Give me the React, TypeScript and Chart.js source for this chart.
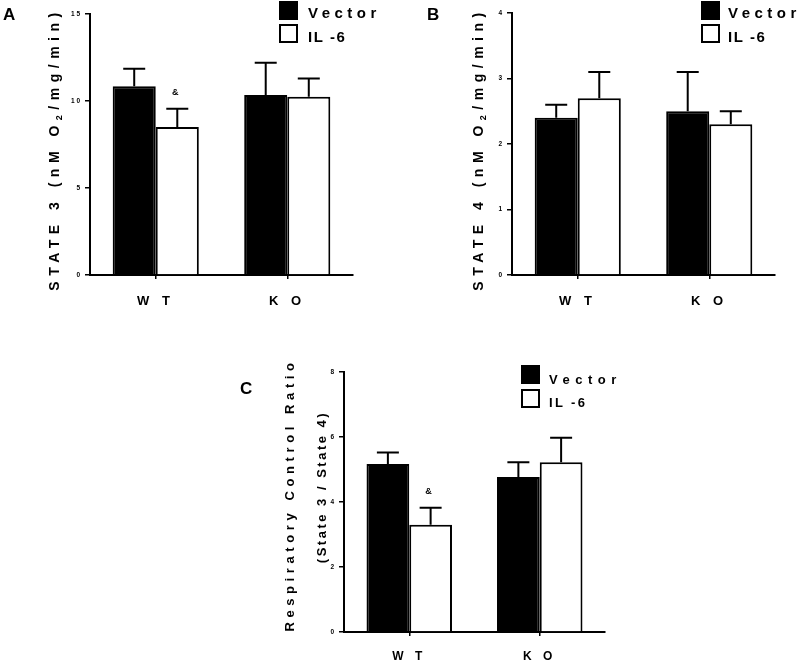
import React, { useEffect, useRef } from "react";
import { Chart, registerables } from "chart.js";

Chart.register(...registerables);

// ---------------- data ----------------
const categories = ["W T", "K O"];
const seriesNames = ["Vector", "IL -6"];

// Panel A: State 3
const state3Vector = [10.85, 10.35];
const state3VectorSem = [1.0, 1.85];
const state3Il6 = [8.5, 10.25];
const state3Il6Sem = [1.05, 1.05];
const state3Il6Marks = ["&", ""];
const state3TickLabels = ["0", "5", "1 0", "1 5"];

// Panel B: State 4
const state4Vector = [2.4, 2.5];
const state4VectorSem = [0.2, 0.6];
const state4Il6 = [2.7, 2.3];
const state4Il6Sem = [0.4, 0.2];
const state4Il6Marks = ["", ""];
const state4TickLabels = ["0", "1", "2", "3", "4"];

// Panel C: Respiratory control ratio
const rcrVector = [5.17, 4.77];
const rcrVectorSem = [0.35, 0.45];
const rcrIl6 = [3.3, 5.22];
const rcrIl6Sem = [0.52, 0.76];
const rcrIl6Marks = ["&", ""];
const rcrTickLabels = ["0", "2", "4", "6", "8"];

const FONT = "'Liberation Sans', Arial, Helvetica, sans-serif";

type Seg = { text: string; size: number; dy?: number };
type TitleLine = { x: number; y: number; spacing: number; segs: Seg[] };

type Panel = {
  key: string;
  left: number;
  top: number;
  width: number;
  height: number;
  padTop: number;
  padRight: number;
  yWidth: number;
  xHeight: number;
  yMax: number;
  yStep: number;
  tickLabels: string[];
  vector: number[];
  vectorErr: number[];
  il6: number[];
  il6Err: number[];
  marks: string[];
  letter: string;
  letterX: number;
  letterY: number;
  titles: TitleLine[];
  legend: {
    boxX: number;
    box1Y: number;
    box2Y: number;
    boxSize: number;
    textX: number;
    base1: number;
    base2: number;
    size: number;
    sp1: number;
    sp2: number;
  };
  xLabelSize: number;
  xLabelSpacing: number;
  xLabelBase: number;
};

const panels: Panel[] = [
  {
    key: "A",
    left: 0,
    top: 0,
    width: 400,
    height: 330,
    padTop: 14,
    padRight: 47,
    yWidth: 90,
    xHeight: 55,
    yMax: 15,
    yStep: 5,
    tickLabels: state3TickLabels,
    vector: state3Vector,
    vectorErr: state3VectorSem,
    il6: state3Il6,
    il6Err: state3Il6Sem,
    marks: state3Il6Marks,
    letter: "A",
    letterX: 3,
    letterY: 20,
    titles: [
      {
        x: 55,
        y: 149,
        spacing: 5.5,
        segs: [
          { text: "STATE 3 (nM O", size: 14 },
          { text: "2", size: 9, dy: 5 },
          { text: "/mg/min)", size: 14 },
        ],
      },
    ],
    legend: { boxX: 279, box1Y: 1, box2Y: 24, boxSize: 19, textX: 308, base1: 18, base2: 42, size: 15, sp1: 4.5, sp2: 1.5 },
    xLabelSize: 13,
    xLabelSpacing: 4.5,
    xLabelBase: 304.5,
  },
  {
    key: "B",
    left: 400,
    top: 0,
    width: 400,
    height: 330,
    padTop: 13,
    padRight: 25,
    yWidth: 112,
    xHeight: 55,
    yMax: 4,
    yStep: 1,
    tickLabels: state4TickLabels,
    vector: state4Vector,
    vectorErr: state4VectorSem,
    il6: state4Il6,
    il6Err: state4Il6Sem,
    marks: state4Il6Marks,
    letter: "B",
    letterX: 27,
    letterY: 20,
    titles: [
      {
        x: 79,
        y: 149,
        spacing: 5.5,
        segs: [
          { text: "STATE 4 (nM O", size: 14 },
          { text: "2", size: 9, dy: 5 },
          { text: "/mg/min)", size: 14 },
        ],
      },
    ],
    legend: { boxX: 301, box1Y: 1, box2Y: 24, boxSize: 19, textX: 328, base1: 18, base2: 42, size: 15, sp1: 4.5, sp2: 1.5 },
    xLabelSize: 13,
    xLabelSpacing: 4.5,
    xLabelBase: 304.5,
  },
  {
    key: "C",
    left: 0,
    top: 330,
    width: 800,
    height: 331,
    padTop: 42,
    padRight: 195,
    yWidth: 344,
    xHeight: 29,
    yMax: 8,
    yStep: 2,
    tickLabels: rcrTickLabels,
    vector: rcrVector,
    vectorErr: rcrVectorSem,
    il6: rcrIl6,
    il6Err: rcrIl6Sem,
    marks: rcrIl6Marks,
    letter: "C",
    letterX: 240,
    letterY: 64,
    titles: [
      { x: 290, y: 165, spacing: 4.6, segs: [{ text: "Respiratory Control Ratio", size: 13 }] },
      { x: 322, y: 157, spacing: 2.5, segs: [{ text: "(State 3 / State 4)", size: 13 }] },
    ],
    legend: { boxX: 521, box1Y: 35, box2Y: 59, boxSize: 19, textX: 549, base1: 54, base2: 77, size: 13, sp1: 5.5, sp2: 2.3 },
    xLabelSize: 12,
    xLabelSpacing: 4,
    xLabelBase: 330,
  },
];

function setSpacing(ctx: CanvasRenderingContext2D, s: number) {
  if ("letterSpacing" in ctx) (ctx as any).letterSpacing = s + "px";
}

function drawSpaced(
  ctx: CanvasRenderingContext2D,
  text: string,
  x: number,
  y: number,
  spacing: number,
  align: CanvasTextAlign
) {
  if ("letterSpacing" in ctx) {
    setSpacing(ctx, spacing);
    ctx.textAlign = align;
    ctx.fillText(text, x, y);
    setSpacing(ctx, 0);
    return;
  }
  const chars = text.split("");
  const widths = chars.map((c) => ctx.measureText(c).width + spacing);
  const total = widths.reduce((a, b) => a + b, 0);
  let sx = align === "center" ? x - total / 2 : align === "right" ? x - total : x;
  ctx.textAlign = "left";
  chars.forEach((c, i) => {
    ctx.fillText(c, sx, y);
    sx += widths[i];
  });
}

function drawTitle(ctx: CanvasRenderingContext2D, line: TitleLine) {
  ctx.save();
  ctx.translate(line.x, line.y);
  ctx.rotate(-Math.PI / 2);
  ctx.textBaseline = "middle";
  ctx.textAlign = "left";
  const widths = line.segs.map((s) => {
    ctx.font = `bold ${s.size}px ${FONT}`;
    setSpacing(ctx, line.spacing);
    let w = ctx.measureText(s.text).width;
    if (!("letterSpacing" in ctx)) w += s.text.length * line.spacing;
    return w;
  });
  const total = widths.reduce((a, b) => a + b, 0);
  let x = -total / 2;
  line.segs.forEach((s, i) => {
    ctx.font = `bold ${s.size}px ${FONT}`;
    drawSpaced(ctx, s.text, x, s.dy || 0, line.spacing, "left");
    x += widths[i];
  });
  ctx.restore();
}

function makePlugin(p: Panel) {
  return {
    id: "decor" + p.key,
    afterDatasetsDraw(chart: any) {
      const ctx: CanvasRenderingContext2D = chart.ctx;
      const yScale = chart.scales.y;
      ctx.save();
      ctx.strokeStyle = "#000";
      ctx.fillStyle = "#000";
      ctx.lineWidth = 2;
      chart.data.datasets.forEach((ds: any, di: number) => {
        const meta = chart.getDatasetMeta(di);
        meta.data.forEach((el: any, i: number) => {
          const v = ds.data[i] as number;
          const top = yScale.getPixelForValue(v + ds.errors[i]);
          ctx.beginPath();
          ctx.moveTo(el.x, el.y);
          ctx.lineTo(el.x, top);
          ctx.moveTo(el.x - 11, top);
          ctx.lineTo(el.x + 11, top);
          ctx.stroke();
          const mark = ds.marks ? ds.marks[i] : "";
          if (mark) {
            ctx.font = `bold 9px ${FONT}`;
            ctx.textAlign = "center";
            ctx.textBaseline = "middle";
            ctx.fillText(mark, el.x - 2, top - 16);
          }
        });
      });
      ctx.restore();
    },
    afterDraw(chart: any) {
      const ctx: CanvasRenderingContext2D = chart.ctx;
      ctx.save();
      ctx.fillStyle = "#000";
      ctx.strokeStyle = "#000";
      ctx.font = `bold 17px ${FONT}`;
      ctx.textBaseline = "alphabetic";
      ctx.textAlign = "left";
      ctx.fillText(p.letter, p.letterX, p.letterY);
      p.titles.forEach((t) => drawTitle(ctx, t));
      const xScale = chart.scales.x;
      ctx.font = `bold ${p.xLabelSize}px ${FONT}`;
      ctx.textBaseline = "alphabetic";
      (chart.data.labels as string[]).forEach((lab, i) => {
        drawSpaced(ctx, lab, xScale.getPixelForValue(i), p.xLabelBase, p.xLabelSpacing, "center");
      });
      const L = p.legend;
      ctx.fillStyle = "#000";
      ctx.fillRect(L.boxX, L.box1Y, L.boxSize, L.boxSize);
      ctx.fillStyle = "#fff";
      ctx.fillRect(L.boxX, L.box2Y, L.boxSize, L.boxSize);
      ctx.lineWidth = 2;
      ctx.strokeRect(L.boxX + 1, L.box2Y + 1, L.boxSize - 2, L.boxSize - 2);
      ctx.fillStyle = "#000";
      ctx.font = `bold ${L.size}px ${FONT}`;
      const names = chart.data.datasets.map((d: any) => d.label as string);
      drawSpaced(ctx, names[0], L.textX, L.base1, L.sp1, "left");
      drawSpaced(ctx, names[1], L.textX, L.base2, L.sp2, "left");
      ctx.restore();
    },
  };
}

function PanelChart({ p }: { p: Panel }) {
  const ref = useRef<HTMLCanvasElement | null>(null);
  useEffect(() => {
    if (!ref.current) return;
    const chart = new Chart(ref.current, {
      type: "bar",
      data: {
        labels: categories,
        datasets: [
          {
            label: seriesNames[0],
            data: p.vector,
            backgroundColor: "#000",
            borderColor: "#000",
            borderWidth: 2,
            errors: p.vectorErr,
          } as any,
          {
            label: seriesNames[1],
            data: p.il6,
            backgroundColor: "#fff",
            borderColor: "#000",
            borderWidth: 2,
            errors: p.il6Err,
            marks: p.marks,
          } as any,
        ],
      },
      options: {
        animation: false,
        responsive: false,
        maintainAspectRatio: false,
        layout: { padding: { top: p.padTop, right: p.padRight, left: 0, bottom: 0 } },
        datasets: { bar: { categoryPercentage: 0.655, barPercentage: 1 } },
        plugins: { legend: { display: false }, tooltip: { enabled: false }, title: { display: false } },
        scales: {
          x: {
            type: "category",
            offset: true,
            z: 1,
            grid: {
              display: true,
              offset: false,
              drawOnChartArea: false,
              drawTicks: true,
              tickLength: 4,
              color: "#000",
              lineWidth: 1.5,
            },
            border: { display: true, color: "#000", width: 2 },
            ticks: { display: false },
            afterFit: (s: any) => {
              s.height = p.xHeight;
            },
          } as any,
          y: {
            type: "linear",
            min: 0,
            max: p.yMax,
            z: 1,
            grid: {
              display: true,
              drawOnChartArea: false,
              drawTicks: true,
              tickLength: 5,
              color: "#000",
              lineWidth: 1.5,
            },
            border: { display: true, color: "#000", width: 2 },
            ticks: {
              stepSize: p.yStep,
              padding: 5,
              color: "#000",
              font: { family: FONT, size: 6.5, weight: "bold" },
              callback: (_v: any, i: number) => p.tickLabels[i],
            },
            afterFit: (s: any) => {
              s.width = p.yWidth;
            },
          } as any,
        },
      },
      plugins: [makePlugin(p)],
    });
    return () => chart.destroy();
  }, [p]);
  return (
    <canvas
      ref={ref}
      width={p.width}
      height={p.height}
      style={{ position: "absolute", left: p.left, top: p.top, width: p.width, height: p.height }}
    />
  );
}

export default function App() {
  return (
    <div style={{ position: "absolute", left: 0, top: 0, width: 800, height: 661, background: "#fff", overflow: "hidden" }}>
      {panels.map((p) => (
        <PanelChart key={p.key} p={p} />
      ))}
    </div>
  );
}
